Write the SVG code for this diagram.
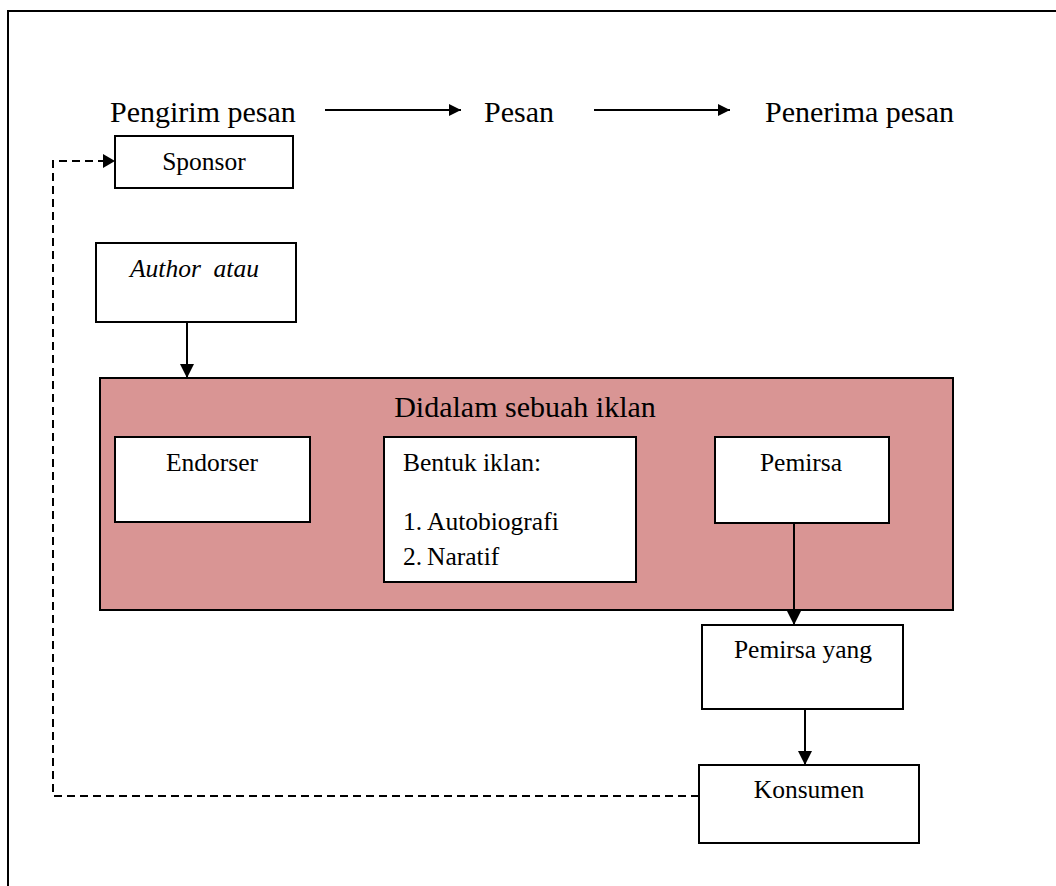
<svg xmlns="http://www.w3.org/2000/svg" width="1056" height="886" viewBox="0 0 1056 886">
  <defs>
    <marker id="ah" viewBox="0 0 10 10" refX="10" refY="5" markerWidth="7" markerHeight="7" markerUnits="strokeWidth" orient="auto">
      <path d="M0,0 L10,5 L0,10 Z" fill="#000"/>
    </marker>
    <marker id="ahs" viewBox="0 0 10 10" refX="10" refY="5" markerWidth="6" markerHeight="6" markerUnits="strokeWidth" orient="auto">
      <path d="M0,0 L10,5 L0,10 Z" fill="#000"/>
    </marker>
  </defs>
  <style>
    .box { fill: #fff; stroke: #000; stroke-width: 2; }
    .t { font-family: "Liberation Serif", "Times New Roman", serif; fill: #000; }
    .big { font-size: 30px; }
    .sm { font-size: 25.5px; }
    .c { text-anchor: middle; }
    .ln { fill: none; stroke: #000; stroke-width: 2; }
    .dash { fill: none; stroke: #000; stroke-width: 2; stroke-dasharray: 8 5; }
  </style>
  <rect x="0" y="0" width="1056" height="886" fill="#fff"/>
  <rect id="frame" x="8" y="11" width="1100" height="1000" fill="none" stroke="#000" stroke-width="2"/>

  <g id="header">
    <text class="t big" x="110" y="122">Pengirim pesan</text>
    <text class="t big" x="484" y="122">Pesan</text>
    <text class="t big" x="765" y="122">Penerima pesan</text>
  </g>

  <g id="sponsor">
    <rect class="box" x="115" y="136" width="178" height="52"/>
    <text class="t sm c" x="204" y="170">Sponsor</text>
  </g>

  <g id="author">
    <rect class="box" x="96" y="243" width="200" height="79"/>
    <text class="t sm" x="130" y="277" font-style="italic" xml:space="preserve">Author  atau</text>
  </g>

  <g id="iklan">
    <rect x="100" y="378" width="853" height="232" fill="#D99594" stroke="#000" stroke-width="2"/>
    <text class="t big c" x="525" y="417">Didalam sebuah iklan</text>
  </g>

  <g id="endorser">
    <rect class="box" x="115" y="437" width="195" height="85"/>
    <text class="t sm c" x="212" y="471">Endorser</text>
  </g>

  <g id="bentuk">
    <rect class="box" x="384" y="437" width="252" height="145"/>
    <text class="t sm" x="403" y="471">Bentuk iklan:</text>
    <text class="t sm" x="403" y="530">1.</text>
    <text class="t sm" x="427" y="530">Autobiografi</text>
    <text class="t sm" x="403" y="565">2.</text>
    <text class="t sm" x="427" y="565">Naratif</text>
  </g>

  <g id="pemirsa">
    <rect class="box" x="715" y="437" width="174" height="86"/>
    <text class="t sm c" x="801" y="471">Pemirsa</text>
  </g>

  <g id="pemirsa-yang">
    <rect class="box" x="702" y="625" width="201" height="84"/>
    <text class="t sm c" x="803" y="658">Pemirsa yang</text>
  </g>

  <g id="konsumen">
    <rect class="box" x="699" y="765" width="220" height="78"/>
    <text class="t sm c" x="809" y="798">Konsumen</text>
  </g>

  <g id="connectors">
    <line class="ln" x1="325" y1="110" x2="461" y2="110" marker-end="url(#ahs)"/>
    <line class="ln" x1="594" y1="110" x2="730" y2="110" marker-end="url(#ahs)"/>
    <line class="ln" x1="187" y1="322" x2="187" y2="378" marker-end="url(#ah)"/>
    <line class="ln" x1="794" y1="523" x2="794" y2="625" marker-end="url(#ah)"/>
    <line class="ln" x1="805" y1="709" x2="805" y2="765" marker-end="url(#ah)"/>
    <path class="dash" d="M699,796 L53,796 L53,161 L103,161"/>
    <path d="M103,154 L115,161 L103,168 Z" fill="#000"/>
  </g>
</svg>
